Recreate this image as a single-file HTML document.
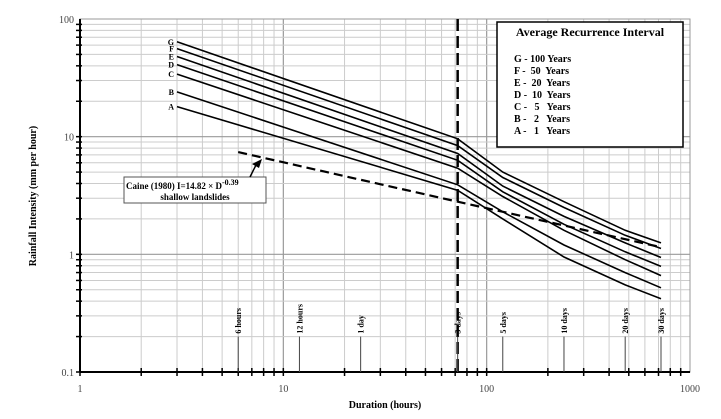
<!DOCTYPE html>
<html><head><meta charset="utf-8"><style>
body{margin:0;background:#fff}
svg text{font-family:"Liberation Serif",serif}
</style></head><body>
<svg id="chart" width="721" height="414" viewBox="0 0 721 414" xmlns="http://www.w3.org/2000/svg">
<g id="grid"></g>
<g id="series"></g>
<g id="axes"></g>
<rect x="497" y="22" width="186" height="125" fill="#fff" stroke="#000" stroke-width="1.5"/>
<text x="590" y="36" text-anchor="middle" font-size="12" font-weight="bold">Average Recurrence Interval</text>
<g id="legend" font-size="10" font-weight="bold"></g>
<g>
<rect x="124" y="177" width="142" height="26" fill="#fff" stroke="#555" stroke-width="1"/>
<text x="126" y="189" font-size="9" font-weight="bold">Caine (1980) I=14.82 × D<tspan dy="-4" font-size="8">-0.39</tspan></text>
<text x="195" y="200" text-anchor="middle" font-size="9" font-weight="bold">shallow landslides</text>
<path d="M250 177 L256 165" stroke="#000" stroke-width="1.5" fill="none"/>
<path d="M262 159 L252 164 L259 168 Z" fill="#000"/>
</g>
<text transform="translate(36,196) rotate(-90)" text-anchor="middle" font-size="10" font-weight="bold">Rainfall Intensity (mm per hour)</text>
<text x="385" y="408" text-anchor="middle" font-size="10" font-weight="bold">Duration (hours)</text>
</svg>
<script>
const durations=[3,72,120,240,480,720];
const seriesNames=["G","F","E","D","C","B","A"];
const seriesG=[64,9.6,5.0,2.8,1.6,1.25];
const seriesF=[56,8.4,4.5,2.5,1.45,1.12];
const seriesE=[48,7.2,3.8,2.1,1.25,0.94];
const seriesD=[41,6.3,3.4,1.8,1.05,0.79];
const seriesC=[34,5.4,3.1,1.6,0.9,0.66];
const seriesB=[24,3.9,2.3,1.2,0.7,0.52];
const seriesA=[18,3.5,2.0,0.95,0.55,0.42];
const caineDur=[6,72,720];
const caineVal=[7.4,2.8,1.15];
const legendLabels=["G - 100 Years","F -  50  Years","E -  20  Years","D -  10  Years","C -   5   Years","B -   2   Years","A -   1   Years"];
const markerDur=[6,12,24,72,120,240,480,720];
const markerLabels=["6 hours","12 hours","1 day","3 days","5 days","10 days","20 days","30 days"];
const xTicks=[1,10,100,1000];
const xTickLabels=["1","10","100","1000"];
const yTicks=[0.1,1,10,100];
const yTickLabels=["0.1","1","10","100"];

const X0=80,X1=690,Y0=372,Y1=19;
const xs=v=>X0+(Math.log10(v))/3*(X1-X0);
const ys=v=>Y0-(Math.log10(v)+1)/3*(Y0-Y1);
const NS="http://www.w3.org/2000/svg";
function mk(p,t,a){const e=document.createElementNS(NS,t);for(const k in a)e.setAttribute(k,a[k]);p.appendChild(e);return e;}
const grid=document.getElementById('grid'),axes=document.getElementById('axes'),ser=document.getElementById('series'),leg=document.getElementById('legend');
// grid
for(let d=1;d<1000;d*=10){for(let m=1;m<=9;m++){const v=d*m;const x=xs(v);
 const l=mk(grid,'line',{x1:x,x2:x,y1:Y1,y2:Y0,stroke:m==1?'#999':'#ccc','stroke-width':m==1?1.2:1});
 }}
for(let d=0.1;d<100;d*=10){for(let m=1;m<=9;m++){const v=d*m;const y=ys(v);
 const l=mk(grid,'line',{x1:X0,x2:X1,y1:y,y2:y,stroke:m==1?'#999':'#ccc','stroke-width':m==1?1.2:1});
 }}
const br=mk(grid,'rect',{x:X0,y:Y1,width:X1-X0,height:Y0-Y1,fill:'none',stroke:'#999'});

// axes
let a=mk(axes,'line',{x1:X0,x2:X0,y1:Y1,y2:Y0,stroke:'#000','stroke-width':2});

a=mk(axes,'line',{x1:X0,x2:X1,y1:Y0,y2:Y0,stroke:'#000','stroke-width':2});

for(let d=1;d<1000;d*=10){for(let m=1;m<=9;m++){const x=xs(d*m);
 const t=mk(axes,'line',{x1:x,x2:x,y1:Y0-4,y2:Y0+4,stroke:'#000','stroke-width':1.5});
 }}
for(let d=0.1;d<100;d*=10){for(let m=1;m<=9;m++){const y=ys(d*m);
 const t=mk(axes,'line',{x1:X0-4,x2:X0+2,y1:y,y2:y,stroke:'#000','stroke-width':1.5});
 }}
xTicks.forEach((v,i)=>{const t=mk(axes,'text',{x:xs(v),y:Y0+20,'text-anchor':'middle','font-size':10,fill:'#444'});t.textContent=xTickLabels[i];
 });
yTicks.forEach((v,i)=>{const t=mk(axes,'text',{x:X0-6,y:ys(v)+4,'text-anchor':'end','font-size':10,fill:'#444'});t.textContent=yTickLabels[i];
 });
// markers
markerDur.forEach((v,i)=>{const x=xs(v);
 const l=mk(axes,'line',{x1:x,x2:x,y1:Y0,y2:ys(0.2),stroke:'#444','stroke-width':1});
 
 const t=mk(axes,'text',{transform:`translate(${x+3},${ys(0.2)-3}) rotate(-90)`,'font-size':8,'font-weight':'bold'});t.textContent=markerLabels[i];
 });
// vertical dashed
const vd=mk(ser,'line',{x1:xs(72),x2:xs(72),y1:Y1,y2:Y0,stroke:'#000','stroke-width':2.5,'stroke-dasharray':'12,5'});

// series
const all=[seriesG,seriesF,seriesE,seriesD,seriesC,seriesB,seriesA];
all.forEach((s,i)=>{const d=s.map((v,j)=>(j?'L':'M')+xs(durations[j]).toFixed(1)+' '+ys(v).toFixed(1)).join(' ');
 const p=mk(ser,'path',{d:d,fill:'none',stroke:'#000','stroke-width':1.6});
 
 const t=mk(ser,'text',{x:xs(durations[0])-3,y:ys(s[0])+3,'text-anchor':'end','font-size':8,'font-weight':'bold'});t.textContent=seriesNames[i];
 });
const cd=caineVal.map((v,j)=>(j?'L':'M')+xs(caineDur[j]).toFixed(1)+' '+ys(v).toFixed(1)).join(' ');
const cp=mk(ser,'path',{d:cd,fill:'none',stroke:'#000','stroke-width':2.2,'stroke-dasharray':'9,5'});

legendLabels.forEach((s,i)=>{const t=mk(leg,'text',{x:514,y:62+i*12,'xml:space':'preserve'});t.textContent=s;t.style.whiteSpace='pre';
 });
</script>
</body></html>
